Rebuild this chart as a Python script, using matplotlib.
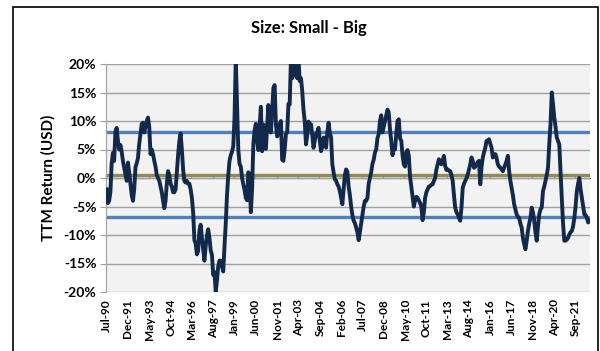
import matplotlib
matplotlib.use("Agg")
import matplotlib.pyplot as plt
from matplotlib.patches import Rectangle

plt.rcParams['font.family'] = ['Lato', 'DejaVu Sans']

# monthly TTM return (%), Jul-90 .. Aug-22
ttm_return = [
    -2.0, -4.4, -4.0, -2.5, 2.5, 4.4, 3.0, 8.0, 8.8, 6.5,
    5.0, 5.8, 4.6, 3.0, 1.8, 0.5, -0.5, 2.7, 1.0, -1.0,
    -3.0, -4.0, -2.0, 1.9, 2.6, 3.5, 6.0, 7.7, 9.5, 9.7,
    8.0, 9.0, 10.0, 10.6, 9.0, 4.2, 5.0, 4.2, 3.0, 2.0,
    0.5, 0.0, -0.5, -1.5, -2.5, -4.0, -5.3, -4.0, -1.0, 1.2,
    0.5, -1.0, -1.5, -2.5, -2.5, -2.0, 1.0, 4.0, 6.5, 7.8,
    5.0, 1.5, -0.5, -0.8, -0.5, -1.0, -1.0, -2.0, -3.5, -6.0,
    -10.9, -11.5, -13.4, -12.8, -9.2, -8.2, -10.5, -12.5, -14.5, -12.0,
    -10.1, -9.0, -10.5, -12.7, -13.5, -17.0, -16.5, -19.9, -18.0, -15.5,
    -14.5, -14.5, -15.5, -16.4, -12.0, -8.0, -3.0, 0.5, 3.0, 4.0,
    4.6, 5.6, 10.6, 21.0, 13.0, 5.0, 2.5, 2.0, 0.0, -1.1,
    -2.1, -3.5, -3.9, 1.0, 0.5, -6.0, -2.0, 5.9, 8.4, 9.5,
    6.5, 4.9, 9.0, 12.5, 4.7, 9.4, 7.3, 5.1, 9.0, 12.8,
    9.0, 8.0, 11.7, 15.8, 16.3, 9.4, 7.3, 7.7, 9.5, 10.0,
    3.2, 3.0, 5.0, 7.7, 8.0, 13.0, 12.9, 21.0, 17.5, 20.5,
    21.0, 18.0, 17.5, 21.0, 17.0, 17.5, 15.3, 12.0, 10.0, 5.9,
    7.5, 9.9, 9.5, 9.4, 7.5, 5.3, 6.5, 7.7, 8.0, 8.8,
    6.5, 4.7, 5.5, 7.1, 6.5, 5.3, 8.0, 9.7, 8.0, 7.1,
    2.4, 1.0, -0.2, -0.5, -1.1, -1.5, -2.3, -3.5, -4.6, -2.0,
    0.5, 1.5, 1.1, -1.5, -3.0, -5.0, -6.5, -7.5, -7.9, -8.7,
    -9.5, -10.9, -9.5, -8.0, -6.5, -5.0, -4.0, -4.0, -3.5, -1.0,
    0.0, 1.0, 2.5, 3.2, 4.5, 5.0, 7.0, 7.7, 10.0, 11.0,
    8.0, 9.0, 10.0, 11.0, 12.0, 11.5, 8.5, 6.5, 4.0, 5.5,
    5.0, 7.7, 10.0, 10.3, 7.0, 6.5, 4.0, 2.4, 2.0, 4.5,
    4.9, 3.9, 0.2, -1.5, -3.3, -5.0, -4.0, -3.3, -3.5, -3.9,
    -4.4, -5.0, -7.4, -6.0, -3.5, -2.5, -2.0, -1.5, -1.4, -1.2,
    -1.1, -0.5, 0.0, 1.5, 2.4, 3.3, 2.8, 2.4, 3.0, 3.9,
    2.1, 1.4, 1.5, 1.3, 1.2, 0.5, -0.5, -3.0, -5.2, -6.0,
    -6.4, -7.0, -7.5, -5.2, -1.7, -1.0, -0.5, 0.0, 0.6, 1.5,
    2.4, 3.6, 3.0, 1.8, 2.0, 2.4, 2.8, 3.0, -1.1, 2.0,
    3.6, 4.5, 5.3, 6.5, 6.6, 6.8, 6.0, 5.3, 3.6, 4.0,
    4.2, 3.5, 2.4, 2.0, 1.8, 1.5, 1.2, 1.8, 2.4, 3.0,
    3.9, 1.2, -0.5, -1.7, -3.0, -4.6, -5.5, -6.4, -6.8, -7.0,
    -8.0, -8.7, -10.5, -11.6, -12.5, -11.0, -9.3, -8.0, -7.0, -5.2,
    -6.0, -7.5, -9.5, -11.0, -8.5, -6.4, -5.5, -5.2, -2.3, -1.5,
    -0.5, 0.5, 1.8, 6.0, 9.4, 15.0, 13.0, 10.6, 9.0, 7.1,
    6.5, 5.9, 1.0, -3.5, -8.0, -11.0, -11.0, -10.8, -10.5, -9.9,
    -9.5, -9.3, -8.5, -7.0, -5.0, -2.3, -1.0, 0.0, -2.0, -3.5,
    -5.0, -6.4, -6.5, -7.0, -7.8, -7.5,
]

tick_labels = ['Jul-90', 'Dec-91', 'May-93', 'Oct-94', 'Mar-96', 'Aug-97',
               'Jan-99', 'Jun-00', 'Nov-01', 'Apr-03', 'Sep-04', 'Feb-06',
               'Jul-07', 'Dec-08', 'May-10', 'Oct-11', 'Mar-13', 'Aug-14',
               'Jan-16', 'Jun-17', 'Nov-18', 'Apr-20', 'Sep-21']
tick_step = 17  # one label every 17 months

mean_level = 0.55
upper_band = 8.0
lower_band = -6.9

n = len(ttm_return)
months = list(range(n))
tick_pos = [k * tick_step for k in range(len(tick_labels))]

fig = plt.figure(figsize=(6, 3.51), dpi=100)
fig.patch.set_facecolor('white')
ax = fig.add_axes([106 / 600, 1 - 292 / 351, 484 / 600, 228 / 351])
ax.set_facecolor('#f2f2f2')

grid_c = '#a0a0a0'
for v in range(-20, 25, 5):
    ax.axhline(v, color=grid_c, lw=1.0, zorder=1)

ax.axhline(upper_band, color='#4f81bd', lw=2.4, zorder=2)
ax.axhline(lower_band, color='#4f81bd', lw=2.4, zorder=2)
ax.axhline(mean_level, color='#948a54', lw=2.4, zorder=2)

ax.plot(months, ttm_return, color='#13294b', lw=2.8, zorder=3,
        solid_joinstyle='round')

ax.set_xlim(-0.5, n - 0.5)
ax.set_ylim(-20, 20)
ax.set_yticks(range(-20, 25, 5))
ax.set_yticklabels([f'{v}%' for v in range(-20, 25, 5)],
                   fontsize=10, fontweight='bold')
ax.set_xticks(tick_pos)
ax.set_xticklabels(tick_labels, rotation=90, fontsize=8.5, fontweight='bold')
ax.tick_params(axis='x', length=0, pad=5)
ax.tick_params(axis='y', length=4, color=grid_c, pad=3)

for s in ['top', 'right', 'bottom']:
    ax.spines[s].set_visible(False)
ax.spines['left'].set_color(grid_c)

# small tick marks where the category axis crosses 0%
sec = ax.secondary_xaxis(0.5)
sec.set_xticks([p - 0.5 for p in tick_pos])
sec.set_xticklabels([])
sec.tick_params(length=3, color=grid_c, width=1)
sec.spines['bottom'].set_visible(False)

ax.set_ylabel('TTM Return (USD)', fontsize=11, fontweight='bold', labelpad=6)
fig.text(0.515, 1 - 28 / 351, 'Size: Small - Big', ha='center', va='center',
         fontsize=12, fontweight='bold')

fig.add_artist(Rectangle((12.5 / 600, -0.1), 585.5 / 600, 1.1 - 7 / 351,
                         transform=fig.transFigure, fill=False,
                         edgecolor='black', lw=1.2))

fig.savefig('out.png', dpi=100)
